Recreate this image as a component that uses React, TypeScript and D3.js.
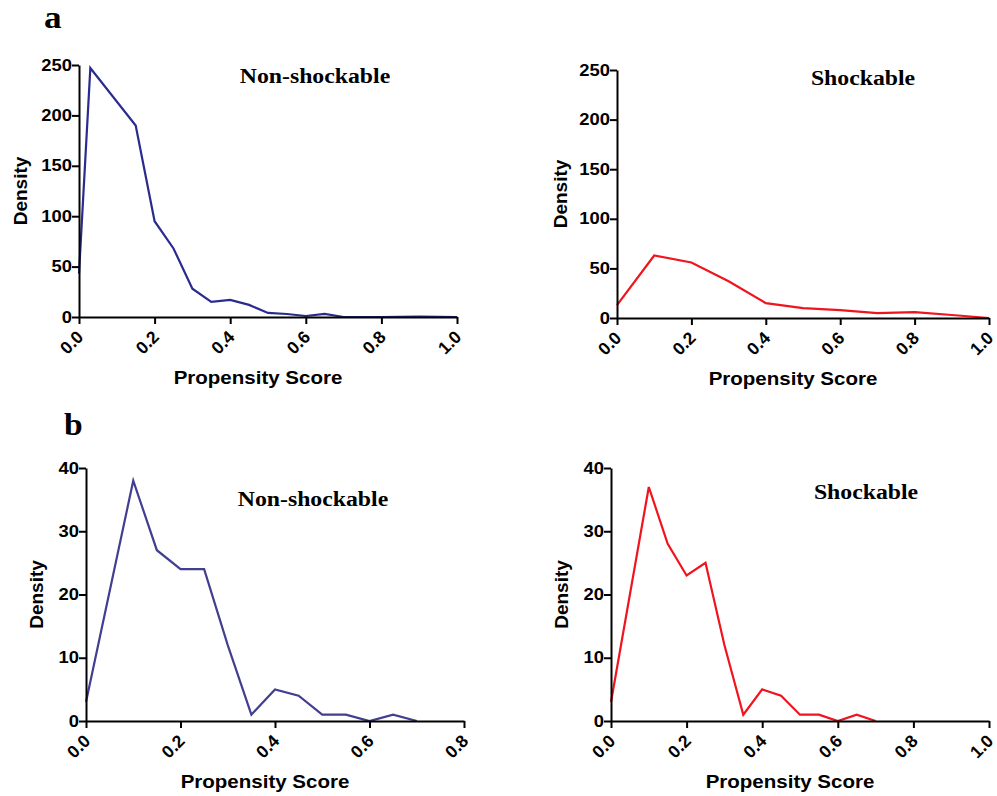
import React, { useRef, useEffect } from "react";
import * as d3 from "d3";

// a: non-shockable (top left)
const aNonX = [0, 0.03, 0.15, 0.2, 0.25, 0.3, 0.35, 0.4, 0.45, 0.5, 0.55, 0.6, 0.65, 0.7, 0.8, 0.9, 1.0];
const aNonY = [43, 247, 190, 95, 68, 28, 15, 17, 12, 4, 3, 1, 3, 0, 0, 0.5, 0];

// a: shockable (top right)
const aShX = [0, 0.1, 0.2, 0.3, 0.4, 0.5, 0.6, 0.7, 0.8, 0.9, 1.0];
const aShY = [13, 63, 56, 37, 15, 10, 8, 5, 6, 3, 0];

// b: non-shockable (bottom left)
const bNonX = [0, 0.1, 0.15, 0.2, 0.25, 0.3, 0.35, 0.4, 0.45, 0.5, 0.55, 0.6, 0.65, 0.7];
const bNonY = [3, 38, 27, 24, 24, 12, 1, 5, 4, 1, 1, 0, 1, 0];

// b: shockable (bottom right)
const bShX = [0, 0.1, 0.15, 0.2, 0.25, 0.3, 0.35, 0.4, 0.45, 0.5, 0.55, 0.6, 0.65, 0.7];
const bShY = [3, 37, 28, 23, 25, 12, 1, 5, 4, 1, 1, 0, 1, 0];

const yTicksA = [0, 50, 100, 150, 200, 250];
const yTicksB = [0, 10, 20, 30, 40];
const xTicks10 = [0, 0.2, 0.4, 0.6, 0.8, 1.0];
const xTicks08 = [0, 0.2, 0.4, 0.6, 0.8];

const panels = [
  { xs: aNonX, ys: aNonY, color: "#2b2b8f", title: "Non-shockable", left: 79, right: 457, top: 65, bottom: 317,
    xMax: 1.0, yMax: 250, xTicks: xTicks10, yTicks: yTicksA, titleX: 315, titleY: 83, yLabOff: 52 },
  { xs: aShX, ys: aShY, color: "#f0141e", title: "Shockable", left: 617, right: 989, top: 70, bottom: 318,
    xMax: 1.0, yMax: 250, xTicks: xTicks10, yTicks: yTicksA, titleX: 863, titleY: 85, yLabOff: 50 },
  { xs: bNonX, ys: bNonY, color: "#413f8f", title: "Non-shockable", left: 86, right: 464, top: 468, bottom: 721,
    xMax: 0.8, yMax: 40, xTicks: xTicks08, yTicks: yTicksB, titleX: 313, titleY: 506, yLabOff: 43 },
  { xs: bShX, ys: bShY, color: "#f0141e", title: "Shockable", left: 611, right: 989, top: 468, bottom: 721,
    xMax: 1.0, yMax: 40, xTicks: xTicks10, yTicks: yTicksB, titleX: 866, titleY: 499, yLabOff: 43 },
];

const sans = "'Liberation Sans', Arial, sans-serif";
const serif = "'Liberation Serif', 'Times New Roman', serif";

const App = () => {
  const svgRef = useRef<SVGSVGElement>(null);

  useEffect(() => {
    const svg = d3.select(svgRef.current);
    svg.selectAll("*").remove();

    // panel letters
    svg.append("text").attr("transform", "translate(44,28) scale(1.1,1)").text("a")
      .style("font-family", serif).style("font-weight", "bold").style("font-size", "32px");
    svg.append("text").attr("transform", "translate(64,435) scale(1.05,1)").text("b")
      .style("font-family", serif).style("font-weight", "bold").style("font-size", "32px");

    panels.forEach(p => {
      const x = d3.scaleLinear().domain([0, p.xMax]).range([p.left, p.right]);
      const y = d3.scaleLinear().domain([0, p.yMax]).range([p.bottom, p.top]);
      const g = svg.append("g");

      // line
      const line = d3.line<number>().x((d, i) => x(p.xs[i])).y(d => y(d));
      g.append("path")
        .datum(p.ys)
        .attr("d", line)
        .attr("fill", "none")
        .attr("stroke", p.color)
        .attr("stroke-width", 2.2)
        .attr("stroke-linejoin", "miter");

      // y axis
      const yAxis = g.append("g")
        .attr("transform", `translate(${p.left},0)`)
        .call(d3.axisLeft(y).tickValues(p.yTicks).tickSize(7).tickSizeOuter(0).tickFormat(d3.format("d")));
      yAxis.selectAll("path, line").attr("stroke", "#000").attr("stroke-width", 2);
      yAxis.selectAll("text")
        .attr("x", 0)
        .attr("transform", "translate(-7,0) scale(1.15,1)")
        .attr("fill", "#000")
        .style("font-family", sans).style("font-weight", "bold").style("font-size", "16px");

      // x axis
      const xAxis = g.append("g")
        .attr("transform", `translate(0,${p.bottom})`)
        .call(d3.axisBottom(x).tickValues(p.xTicks).tickSize(7).tickSizeOuter(0).tickFormat(d3.format(".1f")));
      xAxis.selectAll("path, line").attr("stroke", "#000").attr("stroke-width", 2);
      xAxis.selectAll("text")
        .attr("x", 0).attr("y", 0).attr("dy", null)
        .attr("transform", "translate(5,21) rotate(-45)")
        .attr("text-anchor", "end")
        .attr("fill", "#000")
        .style("font-family", sans).style("font-weight", "bold").style("font-size", "17.5px");

      // axis labels
      g.append("text")
        .attr("transform", `translate(${(p.left + p.right) / 2 - 10},${p.bottom + 67}) scale(1.08,1)`)
        .attr("text-anchor", "middle")
        .text("Propensity Score")
        .style("font-family", sans).style("font-weight", "bold").style("font-size", "19px");

      g.append("text")
        .attr("transform", `translate(${p.left - p.yLabOff},${(p.top + p.bottom) / 2}) rotate(-90)`)
        .attr("text-anchor", "middle")
        .text("Density")
        .style("font-family", sans).style("font-weight", "bold").style("font-size", "19px");

      // title
      g.append("text")
        .attr("transform", `translate(${p.titleX},${p.titleY}) scale(1.08,1)`)
        .attr("text-anchor", "middle")
        .text(p.title)
        .style("font-family", serif).style("font-weight", "bold").style("font-size", "22px");
    });
  }, []);

  return (
    <svg
      ref={svgRef}
      width={997}
      height={796}
      style={{ position: "absolute", left: 0, top: 0, background: "#fff" }}
    ></svg>
  );
};

export default App;
